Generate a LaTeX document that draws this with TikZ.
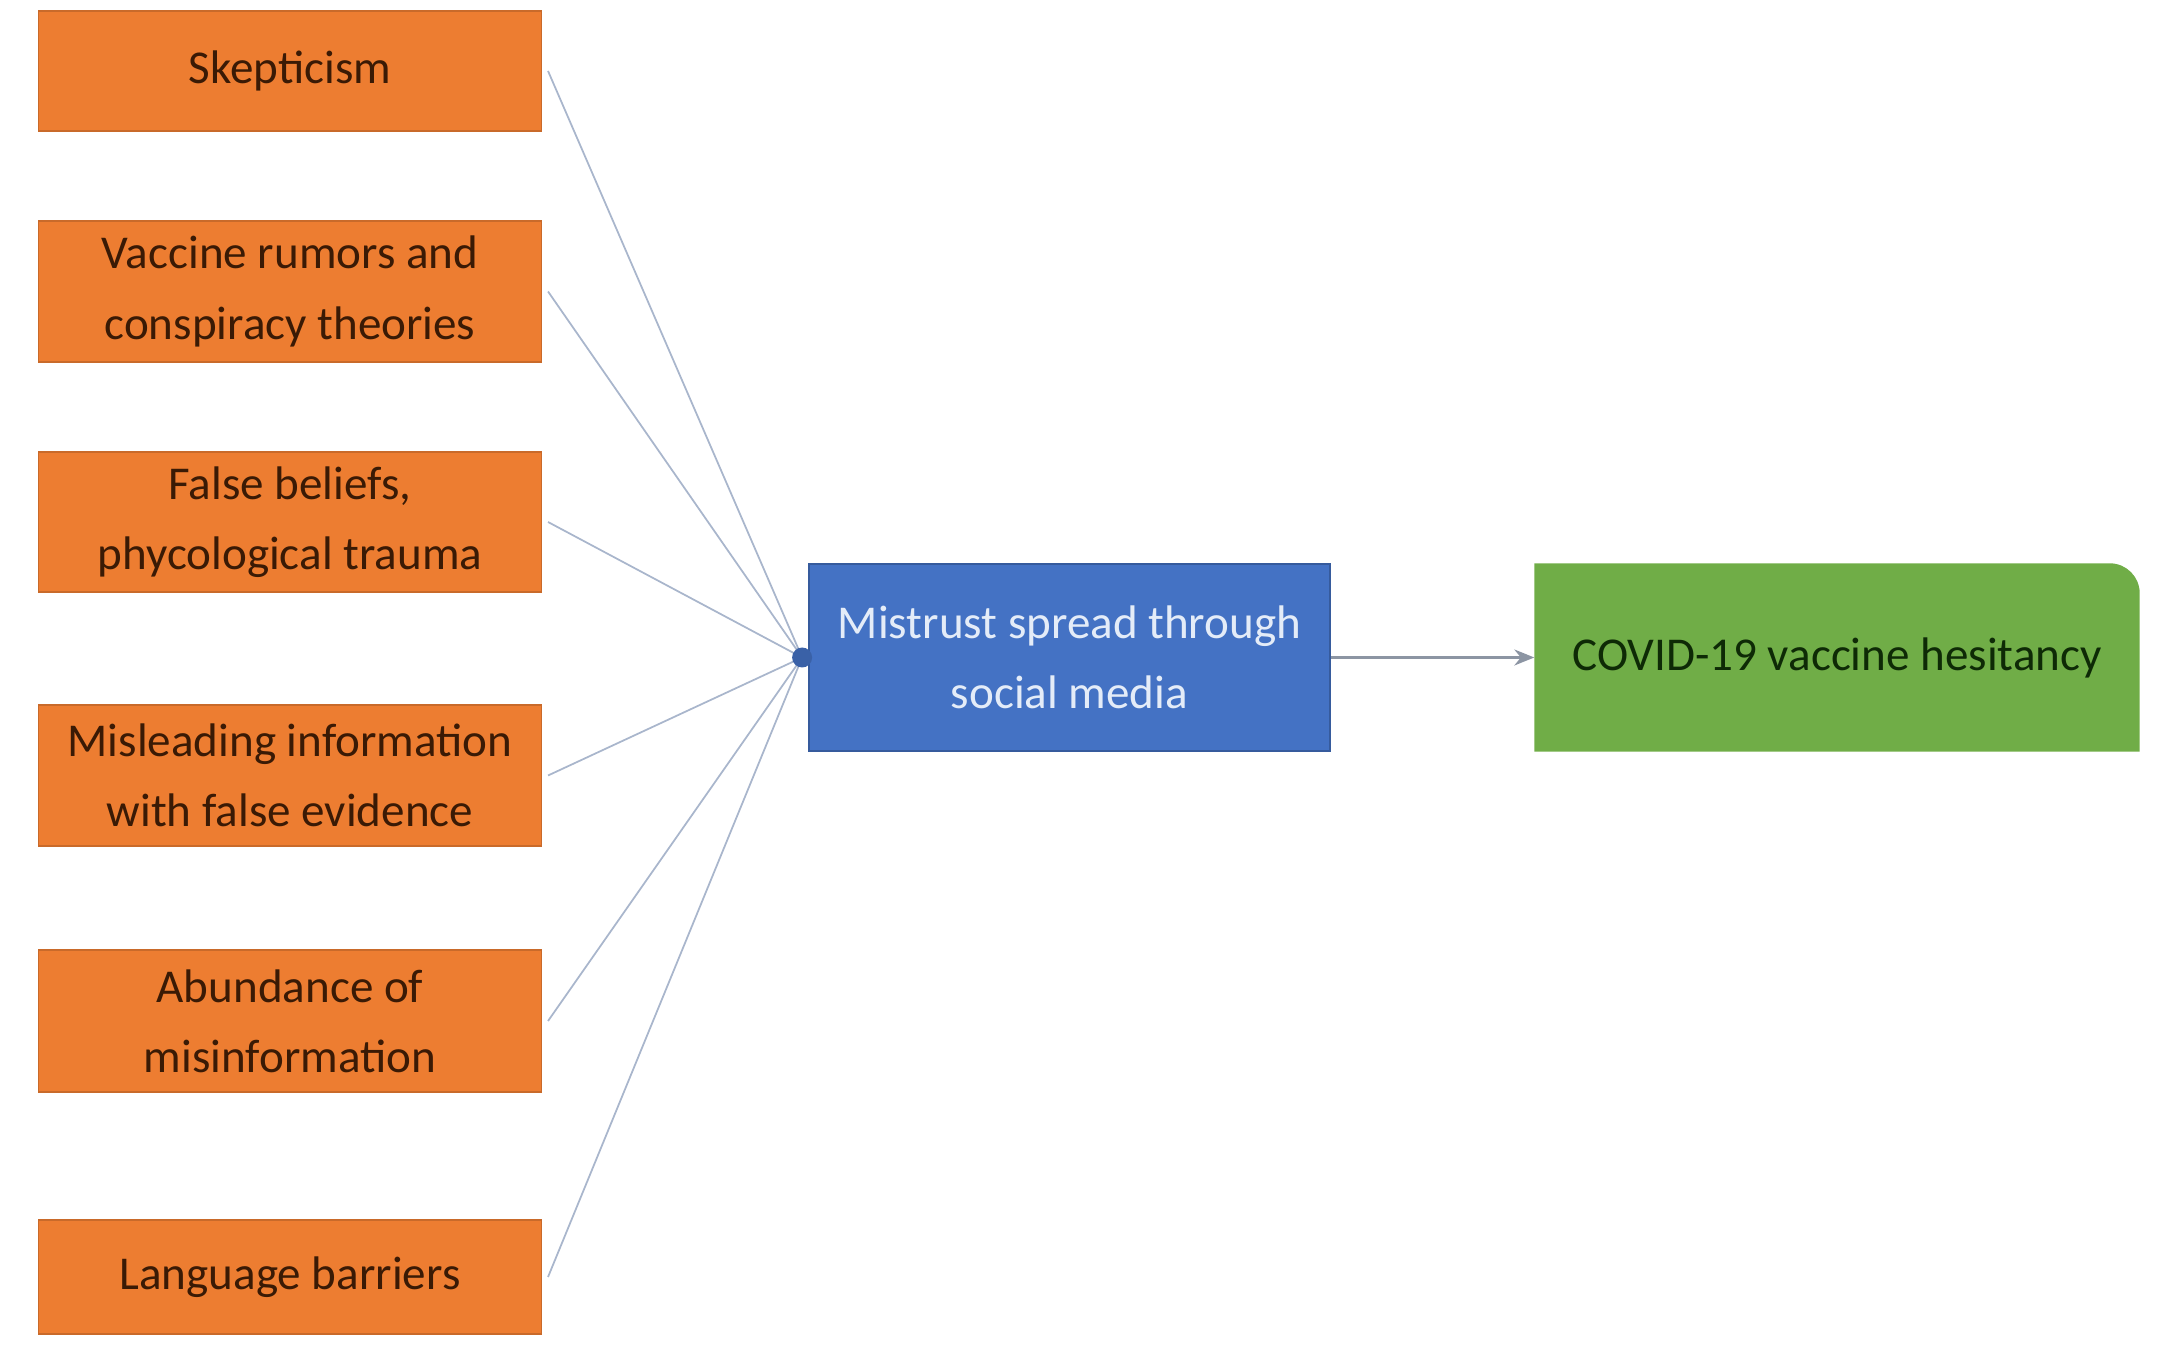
\documentclass[tikz,border=0pt]{standalone}
\usepackage{fontspec}
\setmainfont{Carlito}
\usepackage{tikz}
\usetikzlibrary{arrows.meta,backgrounds}
\definecolor{factorfill}{HTML}{ED7D31}
\definecolor{factortext}{HTML}{3A1A05}
\definecolor{mediafill}{HTML}{4472C4}
\definecolor{mediatext}{HTML}{E4ECF8}
\definecolor{outcomefill}{HTML}{70AD47}
\definecolor{outcometext}{HTML}{0E2A06}
\definecolor{linkgray}{HTML}{A9B6CC}
\definecolor{arrowgray}{HTML}{8C95A3}

\begin{document}
\begin{tikzpicture}[
    factor/.style={rectangle, fill=factorfill, draw=factorfill!85!black, line width=0.3pt,
        minimum width=5.03cm, align=center, text=factortext, font=\fontsize{13.4}{20}\selectfont},
    media/.style={rectangle, fill=mediafill, draw=mediafill!80!black, line width=0.5pt,
        minimum width=5.21cm, minimum height=1.87cm, align=center, text=mediatext,
        font=\fontsize{13.4}{20}\selectfont},
    outcome/.style={rectangle, minimum width=6.04cm, minimum height=1.87cm, align=center,
        text=outcometext, font=\fontsize{13.4}{20}\selectfont},
    link/.style={draw=linkgray, line width=0.5pt}
    ]
        \useasboundingbox (0,0) rectangle (21.68,13.48);
        \node[factor, minimum height=1.20cm] (f1) at (2.90,12.77) {Skepticism};
        \node[factor, minimum height=1.41cm] (f2) at (2.90,10.565) {Vaccine rumors and\\conspiracy theories};
        \node[factor, minimum height=1.40cm] (f3) at (2.90,8.26) {False beliefs,\\phycological trauma};
        \node[factor, minimum height=1.41cm] (f4) at (2.90,5.725) {Misleading information\\with false evidence};
        \node[factor, minimum height=1.42cm] (f5) at (2.90,3.27) {Abundance of\\misinformation};
        \node[factor, minimum height=1.14cm] (f6) at (2.90,0.71) {Language barriers};
        \node[media] (mistrust) at (10.695,6.905) {Mistrust spread through\\social media};
        \node[outcome] (hesitancy) at (18.37,6.905) {COVID-19 vaccine hesitancy};
        \begin{scope}[on background layer]
            \fill[outcomefill] (hesitancy.south west) -- (hesitancy.north west)
                -- ([xshift=-3mm]hesitancy.north east) arc[start angle=90, end angle=0, radius=3mm]
                -- (hesitancy.south east) -- cycle;
        \end{scope}
        \coordinate (hub) at ([xshift=-0.6mm]mistrust.west);
        % Add links into the hub
        \foreach \f in {f1,f2,f3,f4,f5,f6}
            \draw[link] ([xshift=0.6mm]\f.east) -- (hub);
        \fill[mediafill!85!black] (hub) circle (1mm);
        \draw[draw=arrowgray, line width=0.6pt, -{Stealth[length=2mm,width=1.6mm]}] (mistrust) -- (hesitancy);
    \end{tikzpicture}
\end{document}
